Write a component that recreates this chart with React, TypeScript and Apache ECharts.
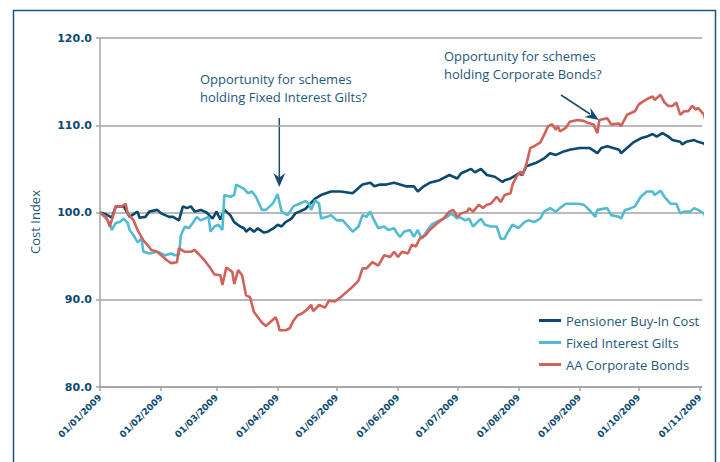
import React, { useEffect, useRef } from "react";
import * as echarts from "echarts";

// ---- data ----
const xTickLabels = [
  "01/01/2009", "01/02/2009", "01/03/2009", "01/04/2009", "01/05/2009", "01/06/2009",
  "01/07/2009", "01/08/2009", "01/09/2009", "01/10/2009", "01/11/2009",
];
const yMin = 80;
const yMax = 120;
const yStep = 10;
const seriesNames = ["Pensioner Buy-In Cost", "Fixed Interest Gilts", "AA Corporate Bonds"];

// days since 01/01/2009
const pensionerDays = [0,3,6,8,12,15,19,20,23,25,29,31,35,37,40,42,44,46,48,51,54,57,59,61,63,66,68,71,73,74,76,78,80,81,83,85,88,90,92,94,97,99,101,104,109,112,117,122,128,133,137,139,142,145,149,152,155,159,161,164,167,172,177,181,183,188,190,193,196,200,204,205,208,211,212,214,216,221,225,228,231,235,238,243,248,252,254,257,260,263,264,267,270,274,277,280,282,285,288,290,294,295,297,301,303,306,307];
const pensionerValues = [100.0,99.8,99.4,100.7,100.7,99.5,100.1,99.4,99.5,100.1,100.3,99.9,99.5,99.5,99.1,100.7,100.5,100.7,100.1,100.3,100.0,99.3,100.1,99.2,100.3,99.7,98.9,98.4,98.2,97.8,98.2,97.8,98.2,98.0,97.7,97.8,98.2,98.6,98.4,98.9,99.3,99.9,100.1,100.4,101.6,102.0,102.4,102.4,102.2,103.2,103.4,103.0,103.2,103.2,103.4,103.2,103.0,103.0,102.4,103.0,103.4,103.7,104.3,103.9,104.5,105.0,104.6,105.0,104.3,104.1,103.5,103.7,103.9,104.3,104.5,104.3,105.3,105.7,106.2,106.8,106.6,107.0,107.2,107.4,107.4,106.8,107.4,107.6,107.4,107.2,106.8,107.4,108.0,108.5,108.7,109.0,108.7,109.1,108.7,108.3,108.1,107.8,108.1,108.3,108.1,107.9,107.6];

const giltsDays = [0,4,6,8,10,12,14,15,17,19,21,22,25,29,31,33,36,38,40,41,43,45,47,49,51,53,55,56,58,60,62,63,66,68,69,73,75,77,79,82,84,87,88,90,92,95,98,101,104,106,107,109,111,112,115,117,120,123,128,131,133,135,137,138,141,144,146,149,150,152,154,157,159,161,163,166,168,172,176,178,181,182,185,187,189,193,195,198,201,203,205,206,209,212,215,217,220,223,225,228,231,233,236,242,245,247,251,252,257,259,263,264,266,269,271,274,277,280,281,284,286,289,292,294,296,299,301,303,306,307];
const giltsValues = [100.0,99.1,98.0,98.8,98.9,99.3,98.8,98.0,97.4,96.6,97.0,95.5,95.3,95.5,95.3,95.1,95.3,95.1,95.2,97.4,98.4,98.2,98.8,99.5,99.1,99.3,99.5,97.8,98.4,98.6,98.0,102.0,101.8,102.0,103.2,102.7,102.2,102.4,101.8,100.3,100.3,100.9,101.2,102.1,100.1,99.7,100.7,101.0,101.3,101.0,100.3,101.4,101.0,99.3,99.5,99.7,99.1,99.1,97.8,98.4,99.7,99.5,100.1,99.5,98.2,98.4,98.0,98.2,97.8,97.2,97.8,98.0,97.2,98.0,97.0,98.0,98.6,99.1,99.5,99.9,99.3,99.5,99.1,99.3,98.4,99.3,98.6,98.4,98.4,97.0,97.0,97.5,98.6,98.2,98.9,99.1,98.9,99.3,100.1,100.5,100.1,100.5,101.0,101.0,100.9,100.5,99.5,100.3,100.5,99.7,99.5,99.3,100.3,100.5,100.7,101.8,102.4,102.4,102.0,102.5,101.8,101.0,101.0,99.9,100.1,100.1,100.5,100.3,99.9,99.3];

const corporateDays = [0,3,5,7,8,11,13,14,17,19,22,24,26,29,31,34,36,39,40,43,46,48,51,53,56,58,61,62,64,67,68,70,72,74,76,78,80,82,84,86,89,90,91,94,96,98,100,102,104,107,108,111,114,116,119,122,125,128,131,133,135,138,141,144,147,149,151,153,156,158,160,162,165,167,171,174,177,179,181,183,186,187,189,192,194,196,198,201,203,205,208,209,211,213,214,216,218,220,223,225,227,229,231,232,233,236,238,242,245,247,250,252,253,257,259,263,264,267,269,271,273,275,278,280,281,284,286,288,290,292,294,296,298,300,302,303,306,307];
const corporateValues = [100.0,99.5,98.4,99.9,100.7,100.7,101.0,99.9,99.1,98.0,96.8,96.3,95.7,95.5,95.1,94.5,94.2,94.3,95.9,95.5,95.5,95.7,95.0,94.5,93.6,92.9,92.8,91.7,93.7,93.2,91.8,93.4,92.8,90.5,90.3,88.6,88.0,87.4,87.0,87.4,88.0,87.4,86.5,86.5,86.7,87.6,88.2,88.4,88.7,89.4,88.7,89.4,89.1,89.9,89.8,90.3,90.9,91.5,92.2,93.6,93.6,94.3,93.9,95.1,94.9,95.5,94.9,95.5,95.3,96.3,96.1,97.0,97.4,98.0,98.8,99.3,100.1,100.3,99.5,99.9,100.1,100.5,100.1,100.9,100.5,100.9,101.0,101.8,101.2,102.0,102.2,103.2,104.1,104.7,104.3,105.5,107.4,107.6,108.0,108.9,109.9,110.1,109.5,109.9,109.3,109.7,110.4,110.6,110.5,110.3,110.1,109.1,110.6,110.8,110.1,110.2,109.9,111.2,111.4,111.6,112.4,112.7,113.1,113.3,112.9,113.5,112.6,112.2,112.2,112.6,111.2,111.6,111.6,112.2,111.8,112.0,111.2,110.3];

const axisEndDay = 305;

const colors = ["#0b4a6e", "#52bbd4", "#d1625a"];

// day offset of a dd/MM/yyyy label from 01/01/2009
function labelToDay(s: string): number {
  const [dd, mm, yy] = s.split("/").map(Number);
  return Math.round((Date.UTC(yy, mm - 1, dd) - Date.UTC(2009, 0, 1)) / 86400000);
}

export default function App() {
  const ref = useRef<HTMLDivElement>(null);

  useEffect(() => {
    if (!ref.current) return;
    const chart = echarts.init(ref.current, null, { renderer: "svg" });
    const tickDays = xTickLabels.map(labelToDay);
    const pairs = (days: number[], vals: number[]) => days.map((d, i) => [d, vals[i]]);
    const datasets = [
      pairs(pensionerDays, pensionerValues),
      pairs(giltsDays, giltsValues),
      pairs(corporateDays, corporateValues),
    ];
    const textColor = "#24587a";
    const axisGray = "#a3a3a3";
    const arrowColor = "#184d70";

    const option: any = {
      animation: false,
      grid: { left: 100, right: 18, top: 38, bottom: 75 },
      xAxis: {
        type: "value",
        min: 0,
        max: axisEndDay,
        axisLine: { show: true, lineStyle: { color: axisGray, width: 1.5 } },
        axisTick: { show: true, length: 4, inside: false, customValues: tickDays, lineStyle: { color: axisGray, width: 1.5 } },
        axisLabel: {
          customValues: tickDays,
          rotate: 45,
          margin: 9,
          fontFamily: "DejaVu Sans",
          fontWeight: "bold",
          fontSize: 9,
          color: "#0d4a70",
          formatter: (v: number) => {
            const i = tickDays.indexOf(Math.round(v));
            return i >= 0 ? xTickLabels[i] : "";
          },
        },
        splitLine: { show: false },
      },
      yAxis: {
        type: "value",
        min: yMin,
        max: yMax,
        interval: yStep,
        axisLine: { show: true, lineStyle: { color: axisGray, width: 1.5 } },
        axisTick: { show: true, length: 4, lineStyle: { color: axisGray, width: 1.5 } },
        splitLine: { show: true, lineStyle: { color: axisGray, width: 1.5 } },
        axisLabel: {
          margin: 8,
          fontFamily: "DejaVu Sans",
          fontWeight: "bold",
          fontSize: 11,
          color: "#0d4a70",
          formatter: (v: number) => v.toFixed(1),
        },
      },
      legend: {
        orient: "vertical",
        left: 534,
        top: 309,
        icon: "rect",
        itemWidth: 22,
        itemHeight: 3,
        itemGap: 9,
        data: seriesNames,
        textStyle: { fontFamily: "Open Sans", fontSize: 13, color: textColor },
      },
      series: seriesNames.map((name, i) => ({
        name,
        type: "line",
        data: datasets[i],
        showSymbol: false,
        symbol: "none",
        clip: false,
        color: colors[i],
        lineStyle: { color: colors[i], width: 2.6 },
        z: 2 + i,
      })),
      graphic: [
        {
          type: "rect",
          shape: { x: 13.5, y: 10.5, width: 702, height: 480 },
          style: { fill: "none", stroke: "#1d5479", lineWidth: 1.5 },
          silent: true,
        },
        {
          type: "text",
          x: 35,
          y: 222,
          rotation: Math.PI / 2,
          style: {
            text: "Cost Index",
            fontFamily: "Open Sans",
            fontSize: 13,
            fill: textColor,
            align: "center",
            verticalAlign: "middle",
          },
        },
        {
          type: "text",
          x: 200,
          y: 70,
          style: {
            text: "Opportunity for schemes\nholding Fixed Interest Gilts?",
            fontFamily: "Open Sans",
            fontSize: 13,
            lineHeight: 18,
            fill: textColor,
            align: "left",
            verticalAlign: "top",
          },
        },
        {
          type: "text",
          x: 444,
          y: 47,
          style: {
            text: "Opportunity for schemes\nholding Corporate Bonds?",
            fontFamily: "Open Sans",
            fontSize: 13,
            lineHeight: 18,
            fill: textColor,
            align: "left",
            verticalAlign: "top",
          },
        },
        {
          type: "line",
          shape: { x1: 279.3, y1: 118, x2: 279.3, y2: 178 },
          style: { stroke: arrowColor, lineWidth: 1.5 },
        },
        {
          type: "polygon",
          shape: { points: [[273.3, 173], [279.3, 187], [285.3, 173], [279.3, 177.5]] },
          style: { fill: arrowColor },
        },
        {
          type: "line",
          shape: { x1: 561, y1: 95, x2: 590, y2: 114 },
          style: { stroke: arrowColor, lineWidth: 1.5 },
        },
        {
          type: "polygon",
          shape: { points: [[584.3, 117], [599, 120], [590.3, 107.7], [591.2, 114.8]] },
          style: { fill: arrowColor },
        },
      ],
    };
    chart.setOption(option);
    return () => chart.dispose();
  }, []);

  return (
    <div
      ref={ref}
      style={{ position: "fixed", left: 0, top: 0, width: 720, height: 462, background: "#ffffff" }}
    />
  );
}
